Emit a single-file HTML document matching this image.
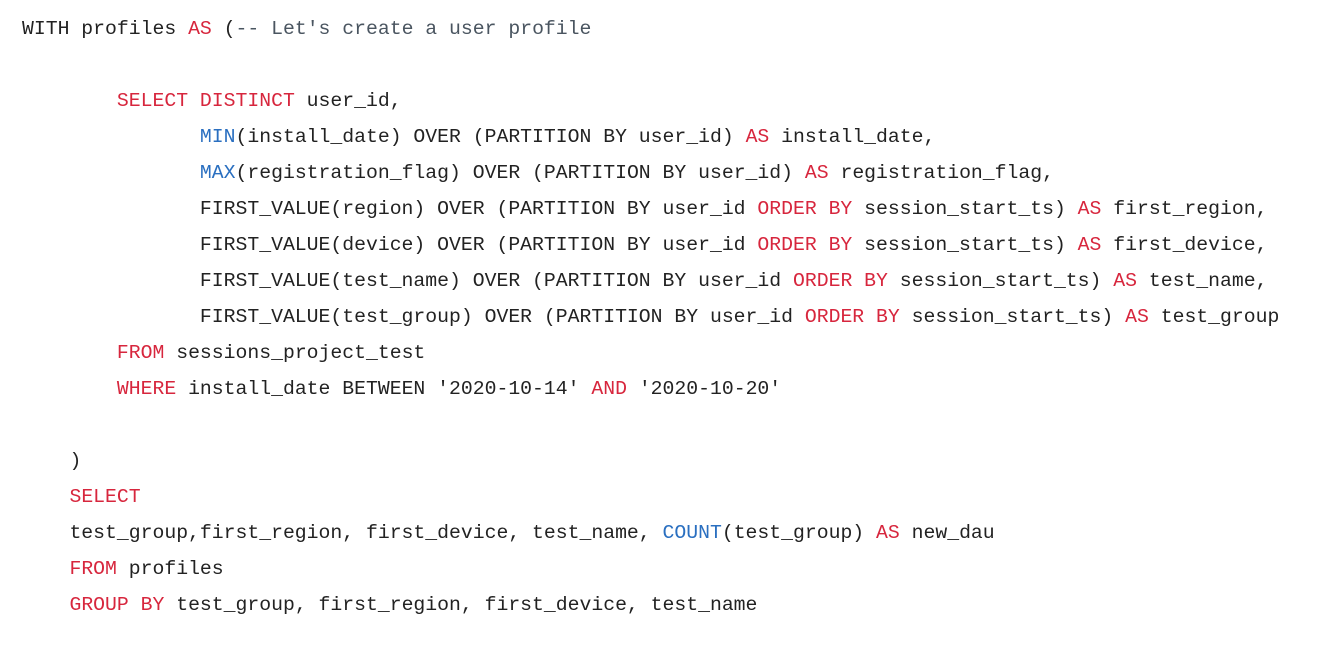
<!DOCTYPE html>
<html><head><meta charset="utf-8"><style>
body{margin:0;width:1327px;height:671px;background:#fff;overflow:hidden}
pre{position:absolute;left:22px;top:11px;margin:0;font-family:"Liberation Mono",monospace;font-size:19.78px;line-height:36px;color:#222;white-space:pre}
.k{color:#d7263d}.f{color:#2a6fc0}.c{color:#4a5560}
</style></head><body><pre>WITH profiles <span class="k">AS</span> (<span class="c">-- Let's create a user profile</span>

        <span class="k">SELECT DISTINCT</span> user_id,
               <span class="f">MIN</span>(install_date) OVER (PARTITION BY user_id) <span class="k">AS</span> install_date,
               <span class="f">MAX</span>(registration_flag) OVER (PARTITION BY user_id) <span class="k">AS</span> registration_flag,
               FIRST_VALUE(region) OVER (PARTITION BY user_id <span class="k">ORDER BY</span> session_start_ts) <span class="k">AS</span> first_region,
               FIRST_VALUE(device) OVER (PARTITION BY user_id <span class="k">ORDER BY</span> session_start_ts) <span class="k">AS</span> first_device,
               FIRST_VALUE(test_name) OVER (PARTITION BY user_id <span class="k">ORDER BY</span> session_start_ts) <span class="k">AS</span> test_name,
               FIRST_VALUE(test_group) OVER (PARTITION BY user_id <span class="k">ORDER BY</span> session_start_ts) <span class="k">AS</span> test_group
        <span class="k">FROM</span> sessions_project_test
        <span class="k">WHERE</span> install_date BETWEEN '2020-10-14' <span class="k">AND</span> '2020-10-20'

    )
    <span class="k">SELECT</span>
    test_group,first_region, first_device, test_name, <span class="f">COUNT</span>(test_group) <span class="k">AS</span> new_dau
    <span class="k">FROM</span> profiles
    <span class="k">GROUP BY</span> test_group, first_region, first_device, test_name
</pre></body></html>
